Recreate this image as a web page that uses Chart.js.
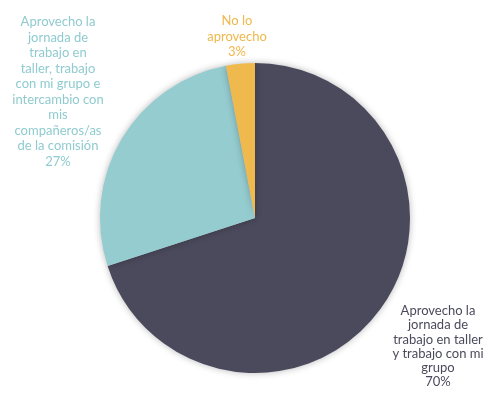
<!DOCTYPE html>
<html>
<head>
<meta charset="utf-8">
<script src="https://cdn.jsdelivr.net/npm/chart.js@4/dist/chart.umd.min.js"></script>
<style>
  html, body { margin: 0; padding: 0; background: #fff; }
  #wrap { width: 487px; height: 394px; }
</style>
</head>
<body>
<div id="wrap"><canvas id="pie" width="487" height="394"></canvas></div>
<script>
// Data
const categories = [
    ['Aprovecho la', 'jornada de', 'trabajo en taller', 'y trabajo con mi', 'grupo'],
    ['Aprovecho la', 'jornada de', 'trabajo en', 'taller, trabajo', 'con mi grupo e', 'intercambio con', 'mis', 'compañeros/as', 'de la comisión'],
    ['No lo', 'aprovecho']
];
const values = [70, 27, 3];
const colors = ['#4b4a5c', '#95ccd0', '#f0b94d'];
const labelColors = ['#4b4a5c', '#8fcbcf', '#efb84a'];

// where each label block sits (center x, first line y, line height)
const labelSpots = [
    { x: 438, y: 311, lh: 14.2 },
    { x: 58, y: 22, lh: 15.5 },
    { x: 237, y: 21, lh: 15.5 }
];

const shadowPlugin = {
    id: 'pieShadow',
    beforeDatasetDraw(chart) {
        const ctx = chart.ctx;
        ctx.save();
        ctx.shadowColor = 'rgba(0,0,0,0.28)';
        ctx.shadowBlur = 7;
    },
    afterDatasetDraw(chart) {
        chart.ctx.restore();
    }
};

const labelPlugin = {
    id: 'sliceLabels',
    afterDraw(chart) {
        const ctx = chart.ctx;
        ctx.save();
        ctx.font = '13px Lato, "DejaVu Sans", sans-serif';
        ctx.textAlign = 'center';
        ctx.textBaseline = 'middle';
        categories.forEach((lines, i) => {
            const spot = labelSpots[i];
            ctx.fillStyle = labelColors[i];
            const all = lines.concat([values[i] + '%']);
            all.forEach((t, j) => {
                ctx.fillText(t, spot.x, spot.y + j * spot.lh);
            });
        });
        ctx.restore();
    }
};

new Chart(document.getElementById('pie'), {
    type: 'pie',
    data: {
        labels: categories.map(c => c.join(' ')),
        datasets: [{
            data: values,
            backgroundColor: colors,
            borderWidth: 0
        }]
    },
    options: {
        responsive: false,
        animation: false,
        layout: { padding: { left: 100, right: 77, top: 63, bottom: 21 } },
        plugins: {
            legend: { display: false },
            tooltip: { enabled: false }
        }
    },
    plugins: [shadowPlugin, labelPlugin]
});
</script>
</body>
</html>
